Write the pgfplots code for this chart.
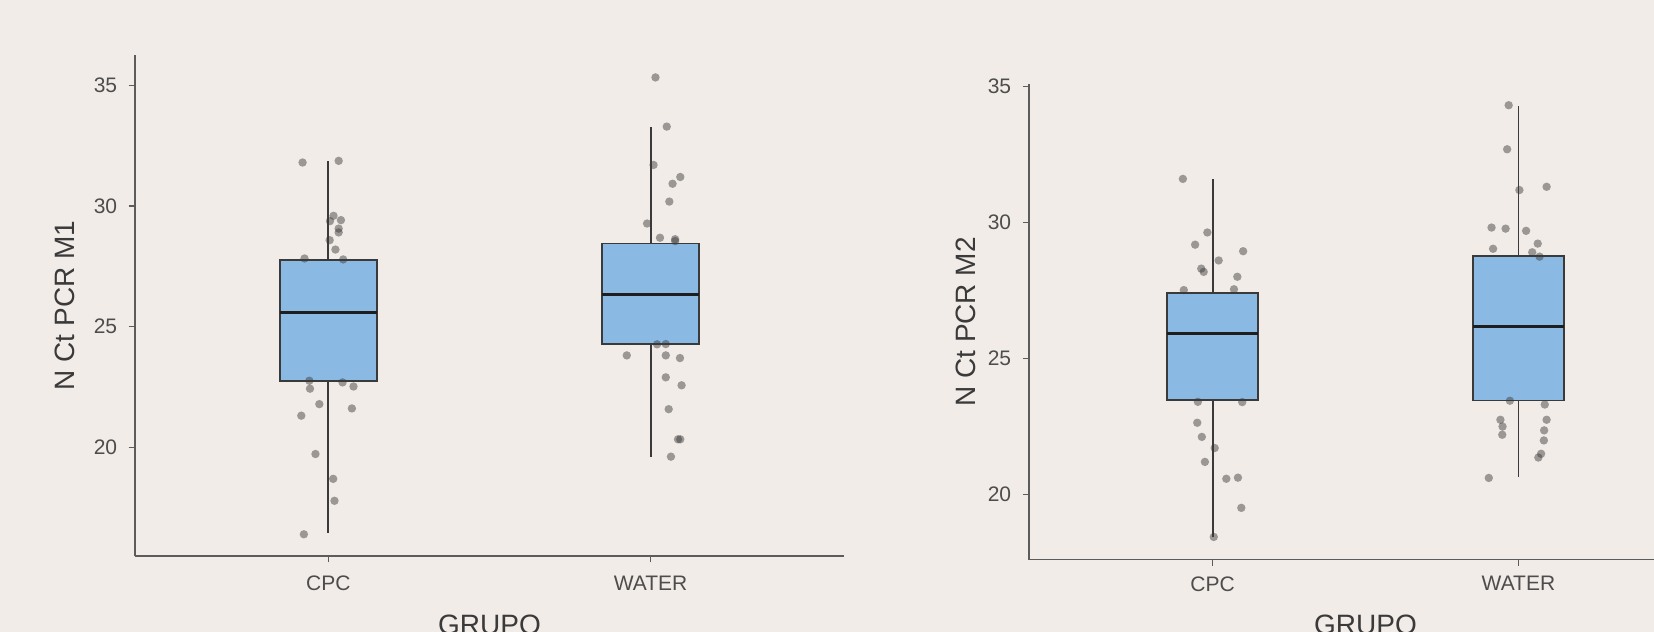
\documentclass[border=0pt]{standalone}
\usepackage{fontspec}
\setmainfont{Liberation Sans}
\usepackage{pgfplots}
\pgfplotsset{compat=1.18}
\usepgfplotslibrary{statistics}

\definecolor{bg}{HTML}{F2ECE8}
\definecolor{axiscol}{HTML}{5C5C5C}
\definecolor{tickcol}{HTML}{4D4D4D}
\definecolor{labcol}{HTML}{3A3A3A}
\definecolor{boxcol}{HTML}{8AB9E4}
\definecolor{edgecol}{HTML}{3A3A3A}
\definecolor{medcol}{HTML}{1E1E1E}
\definecolor{dotcol}{HTML}{3C3C3C}

\pgfplotsset{
  panel/.style={
    scale only axis,
    axis lines*=left,
    axis line style={draw=axiscol, line width=0.75bp},
    xmin=0.4, xmax=2.6,
    xtick={1,2}, xticklabels={CPC,WATER},
    ytick={20,25,30,35},
    tick align=outside,
    major tick length=3.2bp,
    tick style={draw=axiscol, line width=0.75bp},
    tick label style={font=\fontsize{10.5bp}{12bp}\selectfont, text=tickcol},
    /pgf/number format/assume math mode=true,
    yticklabel style={xshift=-2.2bp},
    label style={font=\fontsize{14bp}{16bp}\selectfont, text=labcol},
    xlabel={GRUPO},
    clip=false,
    boxplot/draw direction=y,
    boxplot/every median/.style={draw=medcol, line width=1.5bp},
  },
  jitterdots/.style={only marks, mark=*, mark size=2.1bp, draw=none, fill=dotcol,
    mark options={draw=none, draw opacity=0, fill=dotcol, fill opacity=0.48}},
  boxstyle/.style={draw=edgecol, fill=boxcol, line width=0.95bp, solid, mark=none},
}

\begin{document}
\begin{tikzpicture}
\path[use as bounding box] (0,0) rectangle (827bp,316bp);
\fill[bg] (0,0) rectangle (827bp,316bp);
\clip (0,0) rectangle (827bp,316bp);

% ---- M1 ----
\begin{axis}[panel,
  at={(67.5bp,38bp)}, anchor=south west,
  width=354.5bp, height=250.5bp,
  ymin=15.49, ymax=36.27,
  ylabel={N Ct PCR M1},
  ylabel style={at={(axis description cs:-0.0987,0.5)}, anchor=center},
  xticklabel style={yshift=-3.4bp},
  xlabel style={at={(axis description cs:0.5,0)}, anchor=north, inner sep=0pt, yshift=-29.5bp},
]
% CPC
\addplot[jitterdots] coordinates {
  (0.920,31.81) (1.032,31.88) (1.016,29.60) (1.039,29.42) (1.005,29.38)
  (1.032,29.07) (1.032,28.91) (1.004,28.59) (1.022,28.20) (0.926,27.83)
  (1.046,27.79) (0.941,22.76) (1.044,22.69) (0.943,22.43) (1.078,22.52)
  (0.972,21.79) (1.073,21.61) (0.916,21.31) (0.960,19.72) (1.015,18.69)
  (1.019,17.78) (0.924,16.39)
};
% WATER
\addplot[jitterdots] coordinates {
  (2.015,35.34) (2.050,33.30) (2.009,31.71) (2.092,31.21) (2.068,30.93)
  (2.058,30.19) (1.989,29.28) (2.029,28.69) (2.076,28.63) (2.076,28.55)
  (2.020,24.27) (2.047,24.28) (1.926,23.81) (2.047,23.81) (2.091,23.70)
  (2.047,22.90) (2.096,22.57) (2.056,21.58) (2.085,20.33) (2.092,20.33)
  (2.063,19.61)
};
\addplot[boxstyle, boxplot prepared={lower whisker=16.43, lower quartile=22.76,
  median=25.59, upper quartile=27.76, upper whisker=31.88,
  draw position=1, box extend=0.3, whisker extend=0}] coordinates {};
\addplot[boxstyle, boxplot prepared={lower whisker=19.61, lower quartile=24.28,
  median=26.35, upper quartile=28.45, upper whisker=33.29,
  draw position=2, box extend=0.3, whisker extend=0}] coordinates {};
\end{axis}

% ---- M2 ----
\begin{axis}[panel,
  at={(514.5bp,36.25bp)}, anchor=south west,
  width=336.5bp, height=237.6bp,
  ymin=17.6, ymax=35.08,
  ylabel={N Ct PCR M2},
  ylabel style={at={(axis description cs:-0.0943,0.5)}, anchor=center},
  xticklabel style={yshift=-1.8bp},
  xlabel style={at={(axis description cs:0.5,0)}, anchor=north, inner sep=0pt, yshift=-27.5bp},
]
% CPC
\addplot[jitterdots] coordinates {
  (0.903,31.60) (0.983,29.63) (0.943,29.18) (1.100,28.94) (1.020,28.60)
  (0.963,28.30) (0.971,28.18) (1.081,28.00) (0.906,27.51) (1.070,27.54)
  (0.952,23.40) (1.097,23.39) (0.950,22.63) (0.965,22.11) (1.007,21.70)
  (0.975,21.19) (1.045,20.57) (1.083,20.61) (1.094,19.50) (1.004,18.43)
};
% WATER
\addplot[jitterdots] coordinates {
  (1.968,34.31) (1.963,32.69) (2.003,31.19) (2.092,31.31) (1.912,29.81)
  (1.958,29.77) (2.025,29.69) (2.063,29.22) (1.917,29.03) (2.045,28.90)
  (2.069,28.74) (1.972,23.44) (2.086,23.30) (1.941,22.74) (2.092,22.74)
  (1.948,22.49) (1.947,22.19) (2.084,22.35) (2.083,21.98) (2.074,21.49)
  (2.065,21.35) (1.903,20.60)
};
\addplot[boxstyle, boxplot prepared={lower whisker=18.43, lower quartile=23.47,
  median=25.93, upper quartile=27.40, upper whisker=31.59,
  draw position=1, box extend=0.3, whisker extend=0}] coordinates {};
\addplot[boxstyle, boxplot prepared={lower whisker=20.62, lower quartile=23.45,
  median=26.16, upper quartile=28.77, upper whisker=34.29,
  draw position=2, box extend=0.3, whisker extend=0}] coordinates {};
\end{axis}
\end{tikzpicture}
\end{document}
